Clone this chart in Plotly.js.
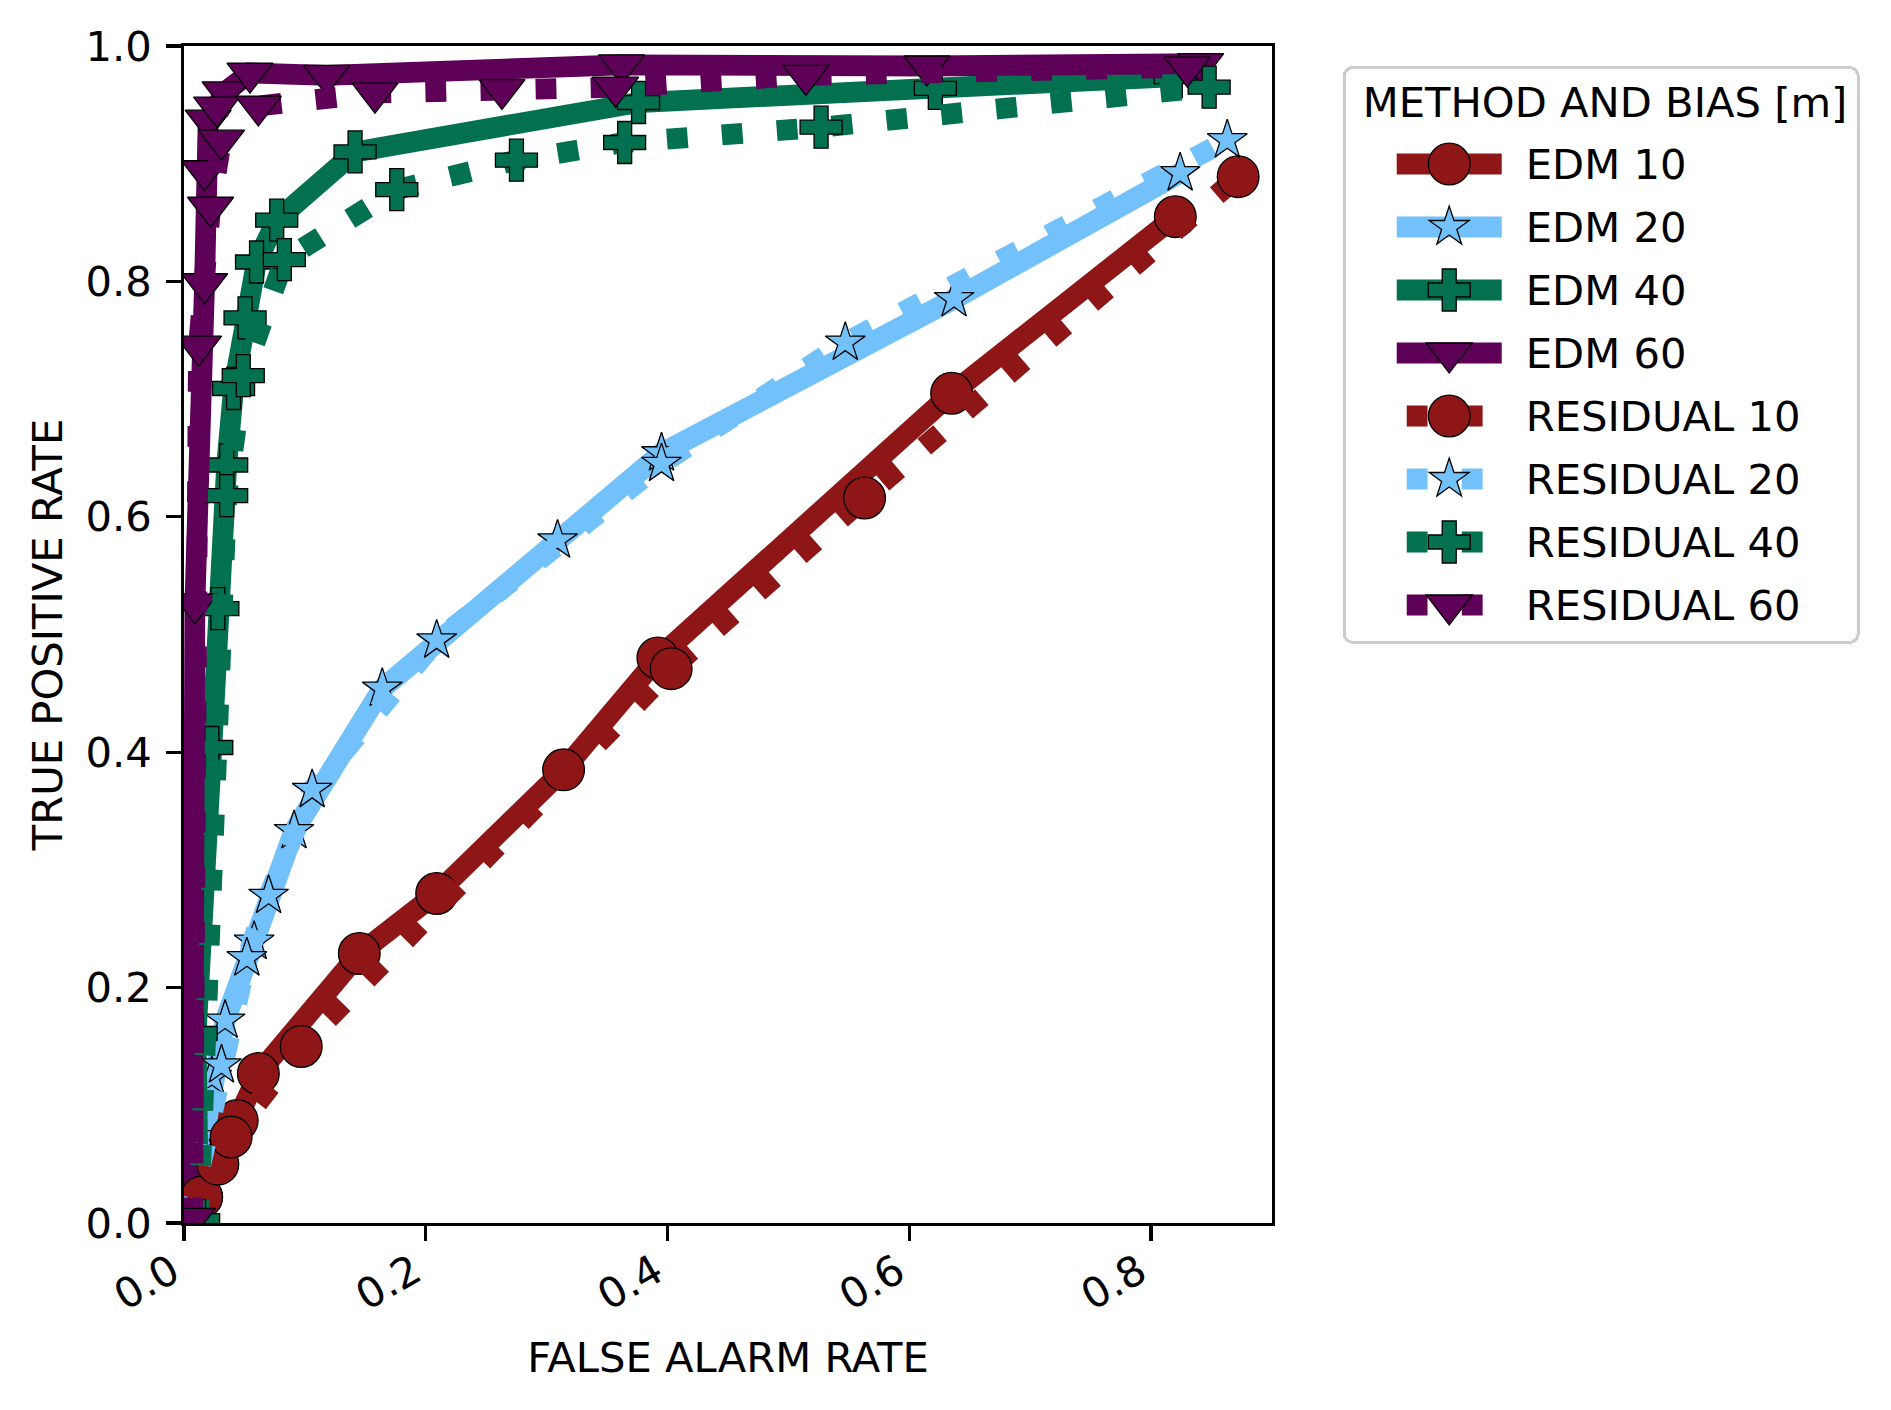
<!DOCTYPE html>
<html>
<head>
<meta charset="utf-8">
<script src="https://cdn.plot.ly/plotly-3.0.1.min.js"></script>
<style>
  html, body { margin: 0; padding: 0; background: #ffffff; }
  #chart { width: 1891px; height: 1410px; }
</style>
</head>
<body>
<div id="chart"></div>
<script>
// ---- data (false alarm rate, true positive rate) ----
const EDM10_X = [0.0146, 0.044, 0.0615, 0.145, 0.209, 0.314, 0.392, 0.635, 0.820];
const EDM10_Y = [0.022, 0.087, 0.127, 0.229, 0.280, 0.385, 0.480, 0.705, 0.855];
const EDM20_X = [0.004, 0.0146, 0.023, 0.034, 0.058, 0.091, 0.164, 0.309, 0.395, 0.637, 0.824];
const EDM20_Y = [0.004, 0.073, 0.124, 0.172, 0.239, 0.333, 0.454, 0.580, 0.654, 0.785, 0.892];
const EDM40_X = [0.012, 0.010, 0.023, 0.028, 0.0353, 0.041, 0.0505, 0.060, 0.0767, 0.1415, 0.376, 0.6215, 0.820];
const EDM40_Y = [0.002, 0.161, 0.404, 0.522, 0.644, 0.709, 0.769, 0.8165, 0.852, 0.910, 0.952, 0.964, 0.974];
const EDM60_X = [0.007, 0.009, 0.017, 0.017, 0.020, 0.034, 0.0546, 0.118, 0.362, 0.6145, 0.841];
const EDM60_Y = [0.004, 0.526, 0.798, 0.894, 0.937, 0.961, 0.977, 0.975, 0.984, 0.983, 0.985];

const RES10_X = [0.0146, 0.028, 0.039, 0.097, 0.403, 0.563, 0.872];
const RES10_Y = [0.022, 0.050, 0.073, 0.150, 0.471, 0.616, 0.889];
const RES20_X = [0.004, 0.031, 0.052, 0.070, 0.106, 0.209, 0.395, 0.547, 0.863];
const RES20_Y = [0.004, 0.134, 0.225, 0.278, 0.368, 0.495, 0.645, 0.748, 0.920];
const RES40_X = [0.012, 0.0353, 0.049, 0.083, 0.176, 0.275, 0.3645, 0.527, 0.848];
const RES40_Y = [0.002, 0.618, 0.720, 0.8185, 0.878, 0.903, 0.918, 0.931, 0.965];
const RES60_X = [0.007, 0.012, 0.022, 0.031, 0.027, 0.0615, 0.158, 0.263, 0.357, 0.5144, 0.830];
const RES60_Y = [0.004, 0.745, 0.863, 0.920, 0.948, 0.949, 0.960, 0.963, 0.965, 0.975, 0.982];

const SERIES_NAMES = ["EDM 10", "EDM 20", "EDM 40", "EDM 60",
                      "RESIDUAL 10", "RESIDUAL 20", "RESIDUAL 40", "RESIDUAL 60"];
const X_TICKS = [0.0, 0.2, 0.4, 0.6, 0.8];
const Y_TICKS = [0.0, 0.2, 0.4, 0.6, 0.8, 1.0];

// ---- styles ----
const FONT = "DejaVu Sans, Verdana, sans-serif";
const FS = 41.7;
const LW = 20.8;
const DOTTED = "20.8px,34.3px";
const COLORS = { 10: "#8E1616", 20: "#72C1FB", 40: "#03704F", 60: "#5E0058" };
const SYMBOLS = { 10: "circle", 20: "star", 40: "cross", 60: "triangle-down" };
const SIZES = { 10: 41.7, 20: 30, 40: 35, 60: 40 };

function mk(name, xs, ys, bias, dotted) {
  return {
    type: "scatter",
    mode: "lines+markers",
    name: name,
    x: xs, y: ys,
    line: { color: COLORS[bias], width: LW, dash: dotted ? DOTTED : "solid" },
    marker: { symbol: SYMBOLS[bias], size: SIZES[bias], color: COLORS[bias],
              line: { color: "#000000", width: 1.3 } },
    cliponaxis: true
  };
}

const data = [
  mk(SERIES_NAMES[0], EDM10_X, EDM10_Y, 10, false),
  mk(SERIES_NAMES[1], EDM20_X, EDM20_Y, 20, false),
  mk(SERIES_NAMES[2], EDM40_X, EDM40_Y, 40, false),
  mk(SERIES_NAMES[3], EDM60_X, EDM60_Y, 60, false),
  mk(SERIES_NAMES[4], RES10_X, RES10_Y, 10, true),
  mk(SERIES_NAMES[5], RES20_X, RES20_Y, 20, true),
  mk(SERIES_NAMES[6], RES40_X, RES40_Y, 40, true),
  mk(SERIES_NAMES[7], RES60_X, RES60_Y, 60, true)
];

const axisCommon = {
  showline: true, mirror: true, linecolor: "#000000", linewidth: 3.3,
  ticks: "outside", ticklen: 14.6, tickwidth: 3.3, tickcolor: "#000000",
  showgrid: false, zeroline: false,
  tickfont: { family: FONT, size: FS, color: "#000000" },
  tickformat: ".1f"
};

const layout = {
  width: 1891, height: 1410,
  paper_bgcolor: "#ffffff", plot_bgcolor: "#ffffff",
  margin: { l: 184, r: 619, t: 46, b: 187, pad: 0 },
  font: { family: FONT, size: FS, color: "#000000" },
  xaxis: Object.assign({}, axisCommon, {
    range: [0, 0.9], tickvals: X_TICKS, tickangle: -30,
    ticklabelstandoff: -10, ticklabelshift: -12,
    title: { text: "FALSE ALARM RATE", font: { family: FONT, size: FS }, standoff: 24 }
  }),
  yaxis: Object.assign({}, axisCommon, {
    range: [0, 1.0], tickvals: Y_TICKS, ticklabelstandoff: 6,
    title: { text: "TRUE POSITIVE RATE", font: { family: FONT, size: FS }, standoff: 11 }
  }),
  showlegend: true,
  legend: {
    x: 1.065, xanchor: "left", y: 0.983, yanchor: "top",
    bgcolor: "rgba(255,255,255,0.8)", bordercolor: "#cccccc", borderwidth: 3,
    font: { family: FONT, size: FS, color: "#000000" },
    title: { text: "METHOD AND BIAS [m]", font: { family: FONT, size: FS }, side: "top" },
    traceorder: "normal", itemwidth: 110
  }
};

// Legend geometry of the reference (pixels inside the legend frame)
const LEG_W = 517, LEG_H = 578;
const LEG_TITLE_X = 20, LEG_TITLE_CY = 36;
const LEG_ROW0 = 98, LEG_ROW_STEP = 63;
const LEG_TEXT_X = 183, LEG_MARK_X = 106.5;

function restyleLegend(gd) {
  const leg = gd.querySelector("g.legend");
  if (!leg) return;
  const capHalf = FS * 0.3645;
  leg.querySelectorAll(".scrollbox, g.groups").forEach(function (g) {
    g.removeAttribute("clip-path");
    g.setAttribute("transform", "translate(0,0)");
  });
  const bg = leg.querySelector("rect.bg");
  if (bg) {
    bg.setAttribute("x", 1.5); bg.setAttribute("y", 1.5);
    bg.setAttribute("width", LEG_W - 3); bg.setAttribute("height", LEG_H - 3);
    bg.setAttribute("rx", 9); bg.setAttribute("ry", 9);
  }
  const title = leg.querySelector("text.legendtitletext");
  if (title) {
    title.setAttribute("x", LEG_TITLE_X);
    title.setAttribute("y", LEG_TITLE_CY + capHalf);
    title.removeAttribute("dy");
  }
  const plotTraces = gd.querySelectorAll(".scatterlayer .trace");
  leg.querySelectorAll("g.traces").forEach(function (el, k) {
    const dd = el.__data__;
    const tr = dd && dd[0] && dd[0].trace;
    const idx = tr ? tr.index : k;
    const dotted = idx >= 4;
    el.setAttribute("transform", "translate(0," + (LEG_ROW0 + LEG_ROW_STEP * k) + ")");
    const lp = el.querySelector(".legendlines path");
    if (lp) {
      lp.setAttribute("d", dotted ? "M64,0h77" : "M54,0h105");
      lp.style.strokeWidth = LW + "px";
      lp.style.strokeDasharray = dotted ? DOTTED : "none";
    }
    const pp = el.querySelector(".legendpoints path");
    const src = plotTraces[idx] ? plotTraces[idx].querySelector(".points path") : null;
    if (pp && src) {
      pp.setAttribute("d", src.getAttribute("d"));
      pp.setAttribute("style", src.getAttribute("style"));
      pp.setAttribute("transform", "translate(" + LEG_MARK_X + ",0)");
    }
    const tx = el.querySelector("text.legendtext");
    if (tx) {
      tx.setAttribute("x", LEG_TEXT_X);
      tx.setAttribute("y", capHalf);
      tx.removeAttribute("dy");
    }
  });
}

Plotly.newPlot("chart", data, layout, { displayModeBar: false, staticPlot: true })
  .then(restyleLegend);
</script>
</body>
</html>
